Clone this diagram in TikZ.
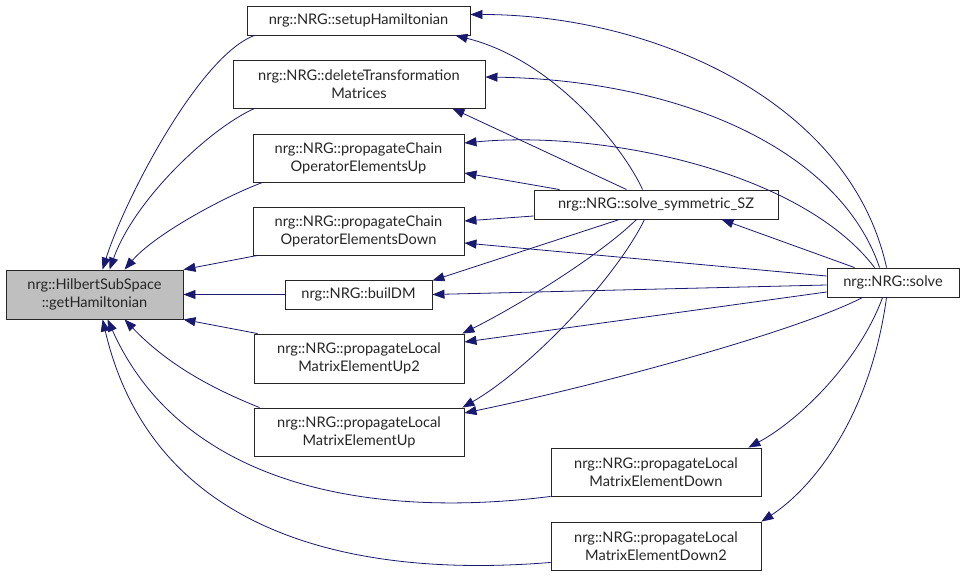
\documentclass[tikz,border=0pt]{standalone}
\usepackage{fontspec}
\setmainfont{Lato}
\usetikzlibrary{arrows.meta}
\definecolor{callblue}{HTML}{191970}

\begin{document}
\begin{tikzpicture}[x=1pt, y=-1pt,
  fn/.style={draw=black!85, fill=white, line width=0.9pt, inner sep=0pt, align=center, text=black!85, font=\fontsize{14.6}{18}\selectfont},
  cur/.style={fn, fill=black!25},
  call/.style={draw=callblue, line width=0.8pt, -{Triangle[length=12pt,width=9pt]}}]
\useasboundingbox (0,0) rectangle (965,575);
% functions
\node[cur, minimum width=177pt, minimum height=49pt] (geth) at (94.5,294.5) {nrg::HilbertSubSpace\\::getHamiltonian};
\node[fn, minimum width=223pt, minimum height=29pt] (setup) at (358.5,20.5) {nrg::NRG::setupHamiltonian};
\node[fn, minimum width=252pt, minimum height=48pt] (deltm) at (359,84) {nrg::NRG::deleteTransformation\\Matrices};
\node[fn, minimum width=211pt, minimum height=48pt] (chup) at (358.5,158) {nrg::NRG::propagateChain\\OperatorElementsUp};
\node[fn, minimum width=211pt, minimum height=48pt] (chdown) at (358.5,231) {nrg::NRG::propagateChain\\OperatorElementsDown};
\node[fn, minimum width=147pt, minimum height=29pt] (buildm) at (358.5,294.5) {nrg::NRG::builDM};
\node[fn, minimum width=210pt, minimum height=49pt] (locup2) at (359,358.5) {nrg::NRG::propagateLocal\\MatrixElementUp2};
\node[fn, minimum width=210pt, minimum height=48pt] (locup) at (359,432) {nrg::NRG::propagateLocal\\MatrixElementUp};
\node[fn, minimum width=244pt, minimum height=29pt] (symsz) at (656,204.5) {nrg::NRG::solve\_symmetric\_SZ};
\node[fn, minimum width=132pt, minimum height=29pt] (solve) at (893,282.5) {nrg::NRG::solve};
\node[fn, minimum width=210pt, minimum height=48pt] (locdown) at (656,472) {nrg::NRG::propagateLocal\\MatrixElementDown};
\node[fn, minimum width=210pt, minimum height=48pt] (locdown2) at (656,546) {nrg::NRG::propagateLocal\\MatrixElementDown2};
% calls into getHamiltonian
\draw[call] ([xshift=8pt]setup.south west) .. controls +(-55,20) and +(22,-70) .. ([xshift=97pt]geth.north west);
\draw[call] ([xshift=22pt]deltm.south west) .. controls +(-45,20) and +(25,-70) .. ([xshift=104pt]geth.north west);
\draw[call] ([xshift=10pt]chup.south west) .. controls +(-40,15) and +(30,-35) .. ([xshift=119pt]geth.north west);
\draw[call] ([xshift=5pt]chdown.south west) -- (geth.north east);
\draw[call] (buildm.west) -- (geth.east);
\draw[call] ([xshift=4pt]locup2.north west) -- (geth.south east);
\draw[call] ([xshift=6pt]locup.north west) .. controls +(-50,-20) and +(42,44) .. ([xshift=119pt]geth.south west);
\draw[call] (locdown.south west) .. controls +(-191,24) and +(72,161) .. ([xshift=102pt]geth.south west);
\draw[call] ([yshift=8pt]locdown2.south west) .. controls +(-221,18) and +(47,201) .. ([xshift=97pt]geth.south west);
% calls from solve_symmetric_SZ
\draw[call] ([xshift=109pt]symsz.north west) .. controls +(-18,-40) and +(100,25) .. ([xshift=-15pt]setup.south east);
\draw[call] ([xshift=93pt]symsz.north west) -- ([xshift=-33pt]deltm.south east);
\draw[call] ([xshift=26pt]symsz.north west) -- ([yshift=-15pt]chup.east);
\draw[call] ([yshift=-11.5pt]symsz.west) -- ([yshift=10pt]chdown.east);
\draw[call] ([xshift=86pt]symsz.south west) -- ([yshift=-1pt]buildm.north east);
\draw[call] ([xshift=103pt]symsz.south west) .. controls +(-37,36) and +(58,-29) .. ([xshift=-2pt]locup2.north east);
\draw[call] ([xshift=111pt]symsz.south west) .. controls +(-30,61) and +(66,-38) .. ([xshift=-2pt]locup.north east);
% calls from solve
\draw[call] ([xshift=60pt]solve.north west) .. controls +(-37,-168) and +(180,0) .. ([yshift=6pt]setup.east);
\draw[call] ([xshift=53pt]solve.north west) .. controls +(-40,-118) and +(195,3) .. ([yshift=7pt]deltm.east);
\draw[call] ([xshift=48pt]solve.north west) .. controls +(-75,-98) and +(135,-13) .. ([yshift=15pt]chup.east);
\draw[call] ([yshift=6.5pt]solve.west) -- ([yshift=-12pt]chdown.east);
\draw[call] ([yshift=-2.5pt]solve.west) -- (buildm.east);
\draw[call] ([yshift=-9.5pt]solve.west) -- ([yshift=16.5pt]locup2.east);
\draw[call] ([xshift=36pt]solve.south west) .. controls +(-63,33) and +(136,-28) .. ([yshift=19pt]locup.east);
\draw[call] ([xshift=28pt]solve.north west) -- ([xshift=-57pt]symsz.south east);
\draw[call] ([xshift=56pt]solve.south west) .. controls +(-23,63) and +(52,-28) .. ([xshift=-13pt]locdown.north east);
\draw[call] ([xshift=60pt]solve.south west) .. controls +(-17,123) and +(49,-32) .. (locdown2.north east);
\end{tikzpicture}
\end{document}
